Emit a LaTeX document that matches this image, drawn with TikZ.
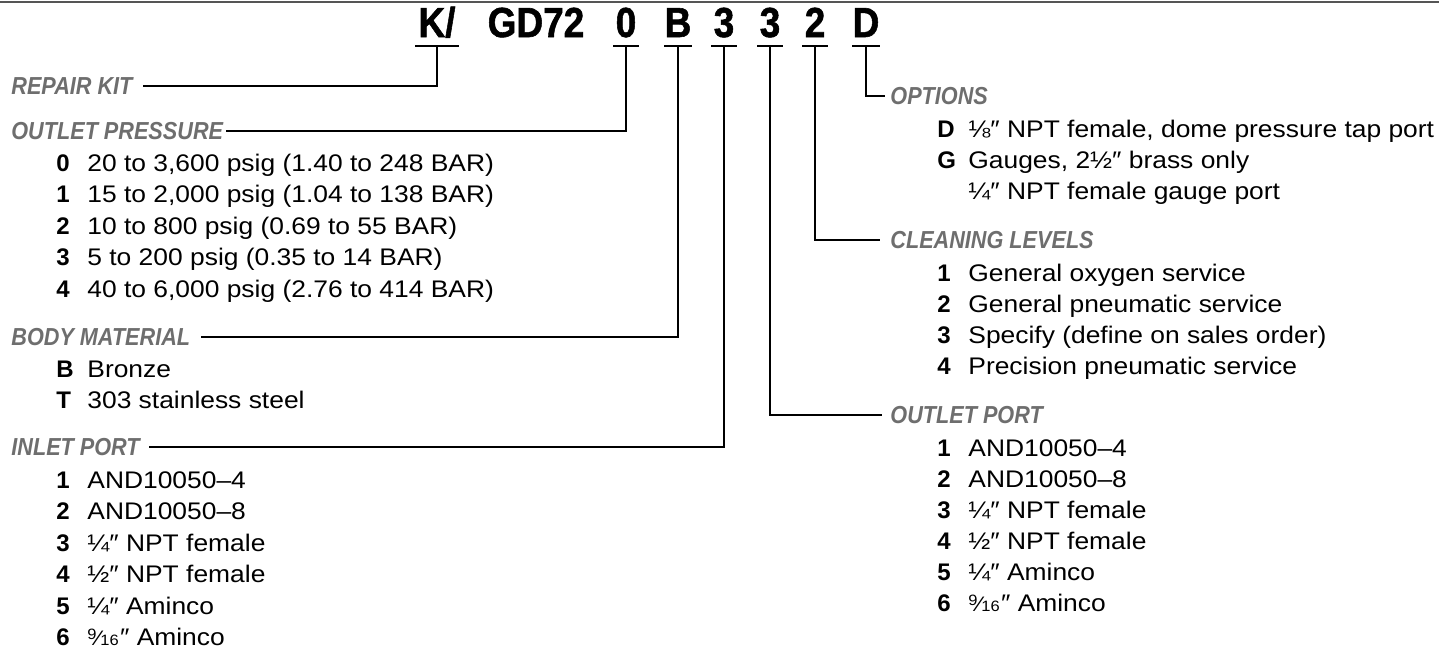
\documentclass[tikz,border=0pt]{standalone}
\usepackage{fontspec}
\setmainfont{Liberation Sans}
\newfontfamily\ttlfont{Liberation Sans}[BoldFeatures={FakeBold=1.4}]
\definecolor{headgray}{HTML}{6E6E6E}
\definecolor{rulegray}{HTML}{555555}
\newcommand{\dq}{″}
\newcommand{\hsc}[1]{\scalebox{0.88}[1]{#1}}
\newcommand{\tsc}[1]{\scalebox{0.88}[1]{#1}}
\newcommand{\bsc}[1]{\scalebox{1.1}[1]{#1}}
\newcommand{\ninesix}{\raisebox{0.45ex}{\fontsize{7.5}{7.5}\selectfont 9}{\fontsize{10.5}{10.5}\selectfont ⁄}{\fontsize{7.5}{7.5}\selectfont 16}\kern0.05em}
\newcommand{\itm}[5]{\node[ky] (#1k) at (#2,#3) {#4}; \node[itx] (#1) at (#2+31,#3) {\bsc{#5}};}
\begin{document}
\begin{tikzpicture}[x=0.5pt,y=-0.5pt,
  ttl/.style={anchor=base, inner sep=0pt, minimum width=12.5pt, font=\fontsize{21}{21}\selectfont\ttlfont\bfseries},
  hd/.style={anchor=west, inner sep=0pt, text height=8.6pt, text depth=0pt, text=headgray, font=\fontsize{12.3}{12.3}\selectfont\bfseries\itshape},
  ky/.style={anchor=base west, inner sep=0pt, font=\fontsize{12}{12}\selectfont\bfseries},
  itx/.style={anchor=base west, inner sep=0pt, font=\fontsize{12}{12}\selectfont},
  conn/.style={line width=0.8pt, black},
  uline/.style={line width=1.1pt, black}]
\useasboundingbox (0,0) rectangle (1439,654);
\draw[rulegray, line width=1pt] (0,2) -- (1439,2);
% title
\node[ttl, minimum width=21.5pt] (tK) at (437,37) {\tsc{K/}};
\node[ttl, minimum width=0pt] (tG) at (536,37) {\tsc{GD72}};
\node[ttl] (tO) at (626,37) {\tsc{0}};
\node[ttl] (tB) at (678,37) {\tsc{B}};
\node[ttl] (t3a) at (724,37) {\tsc{3}};
\node[ttl] (t3b) at (770,37) {\tsc{3}};
\node[ttl] (t2) at (815,37) {\tsc{2}};
\node[ttl] (tD) at (866,37) {\tsc{D}};
\foreach \n in {tK,tO,tB,t3a,t3b,t2,tD}
  \draw[uline] ([yshift=-4.5pt]\n.base west) -- ([yshift=-4.5pt]\n.base east);
% left column
\node[hd] (hRK) at (11,86) {\hsc{REPAIR KIT}};
\node[hd] (hOP) at (11,131) {\hsc{OUTLET PRESSURE}};
\itm{op0}{56}{171}{0}{20 to 3,600 psig (1.40 to 248 BAR)}
\itm{op1}{56}{202.5}{1}{15 to 2,000 psig (1.04 to 138 BAR)}
\itm{op2}{56}{234}{2}{10 to 800 psig (0.69 to 55 BAR)}
\itm{op3}{56}{265.5}{3}{5 to 200 psig (0.35 to 14 BAR)}
\itm{op4}{56}{297}{4}{40 to 6,000 psig (2.76 to 414 BAR)}
\node[hd] (hBM) at (11,337) {\hsc{BODY MATERIAL}};
\itm{bmB}{56}{377}{B}{Bronze}
\itm{bmT}{56}{408}{T}{303 stainless steel}
\node[hd] (hIP) at (11,447) {\hsc{INLET PORT}};
\itm{ip1}{56}{488}{1}{AND10050–4}
\itm{ip2}{56}{519.5}{2}{AND10050–8}
\itm{ip3}{56}{551}{3}{¼\dq{} NPT female}
\itm{ip4}{56}{582.5}{4}{½\dq{} NPT female}
\itm{ip5}{56}{614}{5}{¼\dq{} Aminco}
\itm{ip6}{56}{645.5}{6}{\ninesix\dq{} Aminco}
% right column
\node[hd] (hOPT) at (890,96) {\hsc{OPTIONS}};
\itm{oD}{937}{137}{D}{⅛\dq{} NPT female, dome pressure tap port}
\itm{oG}{937}{168}{G}{Gauges, 2½\dq{} brass only}
\node[itx] (oG2) at (968,199) {\bsc{¼\dq{} NPT female gauge port}};
\node[hd] (hCL) at (890,240) {\hsc{CLEANING LEVELS}};
\itm{cl1}{937}{281}{1}{General oxygen service}
\itm{cl2}{937}{312}{2}{General pneumatic service}
\itm{cl3}{937}{343}{3}{Specify (define on sales order)}
\itm{cl4}{937}{374}{4}{Precision pneumatic service}
\node[hd] (hOT) at (890,415) {\hsc{OUTLET PORT}};
\itm{ot1}{937}{456}{1}{AND10050–4}
\itm{ot2}{937}{487}{2}{AND10050–8}
\itm{ot3}{937}{518}{3}{¼\dq{} NPT female}
\itm{ot4}{937}{549}{4}{½\dq{} NPT female}
\itm{ot5}{937}{580}{5}{¼\dq{} Aminco}
\itm{ot6}{937}{611}{6}{\ninesix\dq{} Aminco}
% connectors
\draw[conn] ([yshift=-4.5pt]tK.base) |- ([xshift=5pt]hRK.east);
\draw[conn] ([yshift=-4.5pt]tO.base) |- ([xshift=1.5pt]hOP.east);
\draw[conn] ([yshift=-4.5pt]tB.base) |- ([xshift=5pt]hBM.east);
\draw[conn] ([yshift=-4.5pt]t3a.base) |- ([xshift=4.5pt]hIP.east);
\draw[conn] ([yshift=-4.5pt]t3b.base) |- ([xshift=-4pt]hOT.west);
\draw[conn] ([yshift=-4.5pt]t2.base) |- ([xshift=-5pt]hCL.west);
\draw[conn] ([yshift=-4.5pt]tD.base) |- ([xshift=-2.5pt]hOPT.west);
\end{tikzpicture}
\end{document}
